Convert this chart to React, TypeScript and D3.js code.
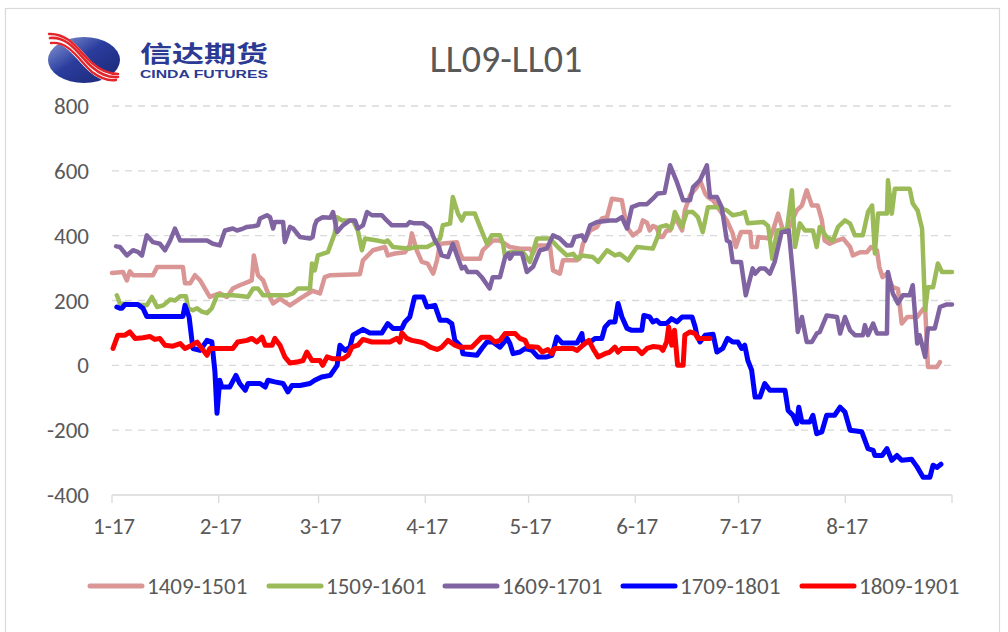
import React from "react";
import * as d3 from "d3";

const START = new Date(2016, 0, 17);
const END = new Date(2016, 8, 17);
const yTicks = [-400, -200, 0, 200, 400, 600, 800];
const monthTicks = [0, 1, 2, 3, 4, 5, 6, 7, 8];
const seriesNames = ["1409-1501", "1509-1601", "1609-1701", "1709-1801", "1809-1901"];
const seriesColors = ["#D99694", "#9BBB59", "#8064A2", "#0000FF", "#FF0000"];
const seriesWidths = [4.5, 4.5, 4.5, 5, 5];

// [days since 1-17, spread]
const s1409: [number, number][] = [[0,285],[3.2,288],[4.3,262],[5.2,290],[6.1,278],[11.9,278],[13.1,303],[20.6,303],[21.2,253],[22.7,253],[24.1,278],[25.6,262],[28.4,211],[31.3,222],[33.4,211],[35.1,237],[37.1,247],[39.2,256],[40.6,262],[41.2,339],[42.4,278],[43.9,262],[45,231],[46.8,191],[48.8,206],[50.8,191],[51.7,185],[54.6,206],[58.3,230],[60.4,222],[61.8,272],[63.4,278],[72,281],[72.9,324],[75.8,355],[79.3,365],[80.1,339],[82.2,345],[85.1,349],[86.5,370],[87.1,407],[88.5,355],[90,319],[91.7,314],[93.3,283],[94.4,324],[95.3,375],[100.2,380],[101.1,345],[101.9,329],[106.9,329],[107.7,355],[110.6,385],[112.7,385],[115.6,365],[118.5,360],[121.4,360],[122.3,345],[123.4,370],[127.2,370],[128.1,293],[130.1,283],[131,324],[135,324],[135.9,330],[136.8,375],[138.9,416],[140.9,427],[142.3,453],[143.8,457],[145.2,514],[148.1,509],[149,457],[149.9,422],[151.3,401],[153.3,416],[154.2,447],[155.4,440],[156.2,416],[157.1,430],[158.2,425],[159.2,396],[160,396],[161.1,416],[162.1,416],[163,442],[164.1,447],[165.6,416],[166.4,478],[167.9,524],[169.9,550],[170.8,571],[172.3,530],[173.1,519],[174.6,509],[176.6,478],[178.6,447],[180.3,407],[181.2,365],[182.7,411],[185.4,411],[185.8,365],[187.3,365],[187.7,396],[191.1,391],[192,416],[193.5,468],[194.9,416],[196.1,411],[198.9,478],[200.4,493],[201.8,540],[203.3,493],[205,493],[206.2,447],[207,385],[208.5,375],[210.6,385],[212.4,391],[214.4,365],[215.2,339],[217.3,349],[219.3,349],[220.5,365],[222.2,355],[222.9,303],[223.8,272],[225,282],[226.8,241],[228.3,236],[229.4,129],[231,149],[233.9,149],[234.6,160],[236.2,180],[237,-5],[239.6,-5],[240.5,10]];

const s1509: [number, number][] = [[1.4,216],[2.3,191],[10.1,185],[11.6,211],[13.1,180],[14.9,185],[16.9,203],[18.3,200],[19.8,213],[21.5,213],[22.1,176],[23.5,170],[24.7,176],[26.1,166],[27.6,161],[29,176],[30.5,216],[35.1,216],[38.1,213],[39.5,211],[41,237],[42.4,237],[43.9,216],[50.8,216],[52.6,222],[54,237],[57.5,237],[58.1,314],[58.9,293],[59.8,339],[62.7,349],[64.7,407],[65.3,457],[66.8,447],[70,447],[71.4,416],[72.6,355],[73.5,391],[77,385],[79.3,380],[80.1,385],[81.6,365],[86.5,360],[87.9,365],[91.5,365],[93.3,375],[95.3,391],[96.1,432],[98.2,437],[99,519],[100.5,468],[101.6,447],[102.5,468],[105.4,468],[106.9,427],[108.9,375],[110.3,401],[112.7,401],[113.6,375],[114.2,334],[115.6,349],[119.4,349],[121.4,319],[123.4,391],[127.2,391],[129.5,365],[132.1,339],[134,344],[135.1,329],[136.5,339],[139.7,334],[141.2,319],[143.8,355],[146.1,339],[147.5,344],[149.9,324],[152.5,365],[157.1,360],[158.5,396],[159.2,427],[161.1,432],[162.5,422],[163.5,473],[165.6,427],[167,473],[168.7,473],[170.2,457],[171.6,411],[173.1,488],[175.7,488],[178.6,478],[180.3,463],[182.7,468],[183.8,473],[184.7,438],[189.2,442],[190.6,430],[191.8,329],[193.2,416],[196.1,421],[197.5,540],[198.4,365],[199.8,438],[201.3,416],[203.6,416],[204.7,365],[205.6,427],[207.6,396],[209.4,385],[210.9,427],[212.9,447],[214.4,437],[215.8,401],[218.1,401],[219.6,473],[220.8,493],[221.6,345],[222.5,468],[225.1,468],[225.4,571],[226.5,468],[227.4,545],[231.7,545],[232.6,499],[234,478],[235.3,422],[236.2,170],[237,241],[238.5,241],[239.9,314],[241.1,288],[244,288]];

const s1609: [number, number][] = [[1.2,367],[2.3,365],[4.3,339],[6.1,355],[7.5,350],[8.7,339],[10.1,401],[11.9,380],[13.9,375],[15.4,355],[16.9,385],[18.3,422],[19.8,385],[27.6,385],[29.3,375],[31.3,370],[32.8,416],[35.1,422],[36.3,416],[38.1,422],[39.2,427],[41,429],[42.4,432],[43,453],[45,463],[45.9,457],[46.8,422],[47.3,442],[49.7,442],[50.2,380],[51.7,427],[52.6,422],[54.6,396],[57.5,391],[58.3,396],[58.9,432],[59.5,447],[61.2,457],[63.4,455],[64.2,473],[65.4,411],[67.1,432],[69.1,447],[70.6,447],[71.4,422],[72.9,432],[74.1,473],[75.5,463],[78.4,463],[79.8,447],[81.3,432],[85.6,432],[86.5,442],[87.9,438],[90.4,438],[92.4,422],[93.8,385],[94.7,370],[95.8,339],[97.6,334],[99,375],[100.2,339],[101.6,299],[102.5,304],[103.3,288],[106,288],[107.4,272],[109.7,237],[110.6,272],[112.7,272],[114.2,334],[115.1,345],[115.6,329],[116.5,345],[119.1,345],[120.5,288],[122.3,304],[124.3,355],[126.3,360],[128.1,401],[130.1,391],[132.1,370],[133.5,370],[134.4,396],[136.5,401],[137.4,385],[138.9,432],[140.9,442],[144.6,447],[146.6,447],[148.1,457],[149.6,422],[151,488],[153.3,497],[155.4,497],[157.1,514],[158.5,530],[160.5,532],[162.1,617],[164.1,565],[165.9,509],[167.9,509],[168.8,550],[170.8,571],[172.8,617],[173.7,519],[175.7,519],[177.1,488],[178.6,385],[179.5,380],[180.3,319],[182.7,319],[184.1,216],[186.1,299],[186.8,283],[188.2,299],[189.6,299],[191.1,283],[192.5,319],[194.5,411],[196.6,416],[197.5,314],[198.4,211],[199.2,103],[200.4,149],[201.8,72],[203.3,72],[204.7,98],[205.6,103],[207.6,154],[210.6,149],[211.5,98],[212.9,149],[214.4,108],[215.8,93],[218.1,93],[218.7,124],[219.6,93],[221.1,129],[222.2,98],[225.1,98],[225.4,288],[226.8,222],[228.3,191],[229.7,216],[231.7,216],[232.6,247],[233.9,67],[234.6,93],[236.2,26],[237,114],[239,114],[240.5,180],[242.5,188],[244,188]];

const s1709: [number, number][] = [[1.4,180],[2.3,176],[2.9,176],[3.8,188],[7.5,188],[9,176],[10.1,151],[20.6,151],[21.2,185],[22.4,149],[23.5,52],[25.6,46],[27.6,77],[29,72],[29.9,-20],[30.5,-148],[31.3,-46],[31.9,-67],[34.2,-67],[36,-31],[37.1,-56],[38.7,-77],[39.5,-56],[43,-56],[44.5,-67],[45.3,-46],[47.3,-51],[49.7,-56],[51.1,-82],[52.3,-62],[54.6,-62],[57.5,-56],[58.9,-46],[60.9,-36],[63.4,-31],[65.4,0],[66.2,62],[67.7,46],[69.1,56],[70,93],[72.9,111],[74.9,100],[78.4,100],[80.1,129],[81.6,114],[84.2,114],[85.1,134],[86.5,149],[87.9,211],[90.4,211],[91.5,180],[93.8,185],[95.3,139],[97.3,139],[98.7,129],[99.6,77],[101.6,56],[101.9,36],[106,31],[107.4,52],[108.9,72],[110.6,72],[112.7,56],[114.8,83],[115.6,67],[116.5,36],[118.5,41],[120,52],[122,46],[123.7,26],[126.3,26],[127.8,31],[129.2,87],[130.7,69],[135.1,69],[136.5,98],[136.8,72],[138.9,72],[140.3,83],[142.3,83],[143.2,118],[144.6,134],[146.1,134],[147,191],[148.1,150],[149.6,114],[151,108],[153.9,108],[154.5,154],[156.2,149],[157.1,134],[158.2,139],[159.2,129],[161.1,129],[162.5,144],[164.1,134],[165.6,149],[168.5,149],[169.4,118],[169.9,93],[170.8,72],[172.3,93],[174.6,96],[175.7,41],[177.4,52],[178.8,83],[180.3,72],[181.8,72],[182.9,52],[183.8,62],[184.7,15],[185.8,-15],[186.8,-98],[188.2,-98],[189.6,-56],[191.1,-77],[195.5,-77],[196.4,-139],[197.8,-154],[198.9,-180],[199.5,-129],[200.4,-175],[202.7,-175],[203.6,-154],[204.7,-211],[206.2,-205],[207.6,-154],[209.9,-154],[211.5,-129],[212.9,-144],[214.4,-200],[217.8,-205],[219.6,-257],[221.1,-262],[221.6,-278],[223.7,-278],[225.1,-257],[226.5,-293],[228,-278],[229.4,-293],[232.3,-290],[233.9,-314],[235.6,-345],[237.6,-345],[238.5,-308],[239.6,-315],[240.8,-305]];

const s1809: [number, number][] = [[0.3,52],[1.7,93],[3.8,93],[5.2,103],[6.7,83],[9,85],[11,89],[12.4,80],[13.9,83],[15.4,62],[17.7,59],[19.8,67],[21.2,52],[23.2,62],[24.7,72],[26.1,52],[27.6,31],[28.4,52],[35.1,52],[36.5,72],[39.2,77],[40.6,83],[42.1,72],[43.6,87],[44.5,62],[46.5,62],[47.3,83],[48.8,62],[50.2,26],[51.7,7],[53.7,10],[55.5,15],[56.6,41],[58.1,15],[60.4,15],[61.2,0],[62.5,26],[64.2,20],[67.1,20],[68.6,31],[69.7,56],[71.4,62],[72.9,80],[75.5,72],[80.7,72],[82.7,83],[83.6,72],[84.2,100],[85.6,83],[87.1,77],[89.5,72],[90.9,67],[92.4,56],[94.4,49],[95.8,56],[97.6,77],[99.6,62],[101.1,56],[104.5,56],[106,72],[107.4,87],[109.7,87],[111.2,72],[112.7,77],[114.2,98],[117.1,98],[118.5,83],[120,77],[120.8,58],[123.7,56],[125,41],[126.6,49],[127.8,36],[128.6,52],[133.9,52],[135.1,46],[136.8,62],[138.5,77],[139.7,52],[141.2,26],[143.2,36],[144.6,41],[146.1,56],[147,41],[148.1,52],[152.5,52],[153.9,36],[155.4,52],[157.1,58],[159.2,56],[160,46],[161.1,72],[161.7,118],[162.6,62],[163.4,108],[164.3,0],[165.9,0],[166.4,93],[167.9,103],[169.4,98],[170.2,83],[173.7,83]];

const allSeries = [s1409, s1509, s1609, s1709, s1809];

const FONT = "Carlito, 'Liberation Sans Narrow', 'Noto Sans', sans-serif";
const TEXT = "#595959";
const GRID = "#d9d9d9";

export default function App() {
  const x = d3.scaleTime().domain([START, END]).range([112, 952]);
  const y = d3.scaleLinear().domain([-400, 800]).range([495, 106]);
  const toDate = (d: number) => new Date(START.getTime() + d * 86400000);
  const line = d3
    .line<[number, number]>()
    .x((p) => x(toDate(p[0])))
    .y((p) => y(p[1]));
  const fmt = d3.timeFormat("%-m-%d");
  const tickDates = monthTicks.map((m) => new Date(2016, m, 17));
  const legendX = [88, 267, 443, 621, 800];

  return (
    <div style={{ position: "absolute", left: 0, top: 0 }}>
      <svg width={1008} height={632} style={{ display: "block", background: "#fff" }}>
        <defs>
          <linearGradient id="lg" x1="0" y1="0" x2="1" y2="1">
            <stop offset="0" stopColor="#8fa0d8" />
            <stop offset="0.45" stopColor="#2a3d9e" />
            <stop offset="1" stopColor="#1a2470" />
          </linearGradient>
        </defs>
        <rect x={5.5} y={8.5} width={994} height={640} fill="none" stroke={GRID} strokeWidth={1.2} />

        {/* logo */}
        <ellipse cx={84} cy={60} rx={36} ry={23} fill="url(#lg)" />
        <g fill="none" strokeLinecap="round">
          <path d="M50,39 C70,37 80,58 92,68 C100,75 108,79 118,78" stroke="#fff" strokeWidth={9} />
          <path d="M50,38 C70,36 80,57 92,67 C100,74 108,78 118,77" stroke="#e3262b" strokeWidth={2.6} />
          <path d="M51,43 C70,41 80,62 92,72 C100,78 108,81 116,80" stroke="#e3262b" strokeWidth={2.4} />
          <path d="M49,34 C70,33 80,53 92,63 C100,70 108,74 118,74" stroke="#e3262b" strokeWidth={2.4} />
        </g>
        <text x={140} y={62} fontFamily="'Noto Sans CJK SC', sans-serif" fontWeight={700} fontSize={23} fill="#2b3a92" textLength={128} lengthAdjust="spacingAndGlyphs">信达期货</text>
        <text x={140} y={78} fontFamily="'Liberation Sans', Arial, sans-serif" fontWeight={700} fontSize={11.5} fill="#2b3a92" textLength={128} lengthAdjust="spacingAndGlyphs">CINDA FUTURES</text>

        {/* title */}
        <text x={506} y={72} textAnchor="middle" fontFamily={FONT} fontSize={38} fill={TEXT}>LL09-LL01</text>

        {/* grid */}
        {yTicks.filter((t) => t !== -400).map((t) => (
          <line key={t} x1={112} x2={952} y1={y(t)} y2={y(t)} stroke={GRID} strokeWidth={1.3} strokeDasharray="7,6" />
        ))}
        <line x1={112} x2={952} y1={y(-400)} y2={y(-400)} stroke={GRID} strokeWidth={1.5} />
        {tickDates.map((d, i) => (
          <line key={i} x1={x(d)} x2={x(d)} y1={y(-400)} y2={y(-400) + 8} stroke={GRID} strokeWidth={1.3} />
        ))}
        {yTicks.map((t) => (
          <text key={t} x={89} y={y(t) + 8} textAnchor="end" fontFamily={FONT} fontSize={23} fill={TEXT}>{t}</text>
        ))}
        {tickDates.slice(0, 8).map((d, i) => (
          <text key={i} x={x(d) + 2} y={534} textAnchor="middle" fontFamily={FONT} fontSize={23} fill={TEXT}>{fmt(d)}</text>
        ))}

        {/* series */}
        {allSeries.map((s, i) => (
          <path key={i} d={line(s) || ""} fill="none" stroke={seriesColors[i]} strokeWidth={seriesWidths[i]} strokeLinejoin="round" strokeLinecap="round" />
        ))}

        {/* legend */}
        {seriesNames.map((n, i) => (
          <g key={n}>
            <line x1={legendX[i] + 2} x2={legendX[i] + 54} y1={586} y2={586} stroke={seriesColors[i]} strokeWidth={5} strokeLinecap="round" />
            <text x={legendX[i] + 59} y={594} fontFamily={FONT} fontSize={23} fill={TEXT}>{n}</text>
          </g>
        ))}
      </svg>
    </div>
  );
}
